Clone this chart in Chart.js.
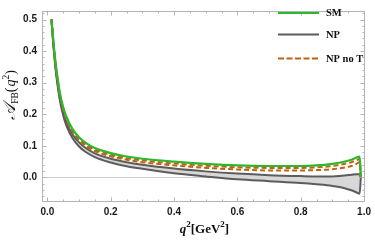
<!DOCTYPE html>
<html>
<head>
<meta charset="utf-8">
<script src="https://cdn.jsdelivr.net/npm/chart.js@4.4.1/dist/chart.umd.min.js"></script>
<style>
html,body{margin:0;padding:0;background:#fff;}
#wrap{width:375px;height:246px;position:relative;}
</style>
</head>
<body>
<div id="wrap"><canvas id="c" width="375" height="246"></canvas></div>
<script>
// ---- data ----
const q2 = [0.013, 0.016, 0.02, 0.025, 0.03, 0.04, 0.05, 0.06, 0.08, 0.10, 0.12, 0.15, 0.20, 0.25, 0.30, 0.40, 0.50, 0.60, 0.70, 0.80, 0.85, 0.90, 0.93, 0.96, 0.975, 0.986, 0.99];
const smA        = [0.50, 0.465, 0.42, 0.37, 0.33, 0.265, 0.222, 0.192, 0.152, 0.127, 0.110, 0.093, 0.077, 0.066, 0.059, 0.050, 0.043, 0.038, 0.036, 0.036, 0.038, 0.043, 0.048, 0.056, 0.062, 0.066, 0.0];
const npNoTUpper = [0.50, 0.463, 0.417, 0.366, 0.326, 0.260, 0.217, 0.187, 0.147, 0.122, 0.105, 0.088, 0.072, 0.061, 0.054, 0.044, 0.037, 0.032, 0.030, 0.030, 0.032, 0.036, 0.041, 0.048, 0.054, 0.058, 0.0];
const npNoTLower = [0.50, 0.461, 0.414, 0.363, 0.322, 0.256, 0.213, 0.183, 0.143, 0.118, 0.101, 0.083, 0.067, 0.056, 0.048, 0.038, 0.030, 0.025, 0.022, 0.022, 0.023, 0.026, 0.030, 0.036, 0.042, 0.048, 0.0];
const npUpper    = [0.50, 0.459, 0.410, 0.358, 0.316, 0.250, 0.206, 0.175, 0.135, 0.111, 0.094, 0.076, 0.059, 0.048, 0.040, 0.028, 0.019, 0.012, 0.007, 0.004, 0.003, 0.003, 0.005, 0.008, 0.010, 0.010, 0.0];
const npLower    = [0.50, 0.456, 0.405, 0.351, 0.308, 0.241, 0.196, 0.164, 0.123, 0.098, 0.081, 0.064, 0.047, 0.035, 0.027, 0.013, 0.003, -0.006, -0.012, -0.018, -0.022, -0.027, -0.032, -0.041, -0.047, -0.052, 0.0];
const xTickValues = [0.0, 0.2, 0.4, 0.6, 0.8, 1.0];
const yTickValues = [0.0, 0.1, 0.2, 0.3, 0.4, 0.5];
const legendLabels = ["SM", "NP", "NP no T"];

const GREEN = '#2cb82c', GRAY = '#5c5c5c', BROWN = '#c0620f', BAND = '#d8d8d8', FRAME = '#b4b4b4';

const pts = arr => arr.map((v, i) => ({x: q2[i], y: v}));

const framePlugin = {
  id: 'frame',
  beforeDatasetsDraw(chart) {
    const {ctx, chartArea: a, scales: {x, y}} = chart;
    ctx.save();
    ctx.strokeStyle = '#cfcfcf'; ctx.lineWidth = 1;
    const y0 = Math.round(y.getPixelForValue(0)) + 0.5;
    ctx.beginPath(); ctx.moveTo(a.left, y0); ctx.lineTo(a.right, y0); ctx.stroke();
    ctx.restore();
  },
  afterDatasetsDraw(chart) {
    const {ctx, chartArea: a, scales: {x, y}} = chart;
    ctx.save();
    ctx.strokeStyle = FRAME; ctx.lineWidth = 1;
    ctx.strokeRect(a.left + 0.5, a.top + 0.5, a.right - a.left - 1, a.bottom - a.top - 1);
    for (let k = 0; k <= 20; k++) {
      const v = k * 0.05;
      const px = Math.round(x.getPixelForValue(v)) + 0.5;
      const len = (k % 4 === 0) ? 4.5 : 2.5;
      ctx.beginPath();
      ctx.moveTo(px, a.bottom); ctx.lineTo(px, a.bottom - len);
      ctx.moveTo(px, a.top); ctx.lineTo(px, a.top + len);
      ctx.stroke();
    }
    for (let k = -3; k <= 26; k++) {
      const v = k * 0.02;
      if (v < y.min || v > y.max) continue;
      const py = Math.round(y.getPixelForValue(v)) + 0.5;
      const len = (k % 5 === 0) ? 4.5 : 2.5;
      ctx.beginPath();
      ctx.moveTo(a.left, py); ctx.lineTo(a.left + len, py);
      ctx.moveTo(a.right, py); ctx.lineTo(a.right - len, py);
      ctx.stroke();
    }
    ctx.restore();
  },
  afterDraw(chart) {
    const {ctx, chartArea: a} = chart;
    ctx.save();
    const items = [
      {label: legendLabels[0], color: GREEN, dash: [], w: 2.2},
      {label: legendLabels[1], color: GRAY, dash: [], w: 2},
      {label: legendLabels[2], color: BROWN, dash: [6, 2.5], w: 2},
    ];
    const ly = [13, 34.5, 58.5];
    items.forEach((it, i) => {
      ctx.strokeStyle = it.color; ctx.lineWidth = it.w; ctx.setLineDash(it.dash);
      ctx.beginPath(); ctx.moveTo(278, ly[i]); ctx.lineTo(319, ly[i]); ctx.stroke();
      ctx.setLineDash([]);
      ctx.fillStyle = '#111';
      ctx.font = 'bold 10.5px "Liberation Serif"';
      ctx.textBaseline = 'middle'; ctx.textAlign = 'left';
      ctx.fillText(it.label, 326, ly[i] + 0.5);
    });
    ctx.fillStyle = '#111';
    ctx.textBaseline = 'alphabetic'; ctx.textAlign = 'left';
    const big = 'bold 13px "Liberation Serif"', sup = 'bold 9px "Liberation Serif"', it = 'bold italic 13px "Liberation Serif"';
    const parts = [
      {t: 'q', f: it, dy: 0}, {t: '2', f: sup, dy: -6}, {t: '[GeV', f: big, dy: 0}, {t: '2', f: sup, dy: -6}, {t: ']', f: big, dy: 0}
    ];
    let tw = 0;
    parts.forEach(p => { ctx.font = p.f; tw += ctx.measureText(p.t).width; });
    let cx = (a.left + a.right) / 2 - tw / 2 + 1;
    const by = 233;
    parts.forEach(p => { ctx.font = p.f; ctx.fillText(p.t, cx, by + p.dy); cx += ctx.measureText(p.t).width; });
    ctx.translate(15, 95);
    ctx.rotate(-Math.PI / 2);
    const yparts = [
      {t: '\u{1D49C}', f: 'italic 17px "DejaVu Serif"', dy: 0},
      {t: 'FB', f: '9.5px "Liberation Serif"', dy: 3},
      {t: '(', f: '14px "Liberation Serif"', dy: 0},
      {t: 'q', f: 'italic 14px "Liberation Serif"', dy: 0},
      {t: '2', f: '9.5px "Liberation Serif"', dy: -6},
      {t: ')', f: '14px "Liberation Serif"', dy: 0},
    ];
    let yw = 0;
    yparts.forEach(p => { ctx.font = p.f; yw += ctx.measureText(p.t).width + (p.t === '(' ? 1 : 0); });
    let yx = -yw / 2;
    yparts.forEach(p => { ctx.font = p.f; ctx.fillText(p.t, yx, p.dy); yx += ctx.measureText(p.t).width + (p.t === '(' ? 1 : 0); });
    ctx.restore();
  }
};

const common = {pointRadius: 0, cubicInterpolationMode: 'monotone', fill: false};

new Chart(document.getElementById('c'), {
  type: 'line',
  data: {
    datasets: [
      {...common, label: legendLabels[0], data: pts(smA), borderColor: GREEN, borderWidth: 2.2},
      {...common, label: legendLabels[2], data: pts(npNoTUpper), borderColor: BROWN, borderWidth: 2, borderDash: [5, 3]},
      {...common, label: legendLabels[2] + ' (lower)', data: pts(npNoTLower), borderColor: BROWN, borderWidth: 2, borderDash: [5, 3]},
      {...common, label: legendLabels[1], data: pts(npUpper), borderColor: GRAY, borderWidth: 2},
      {...common, label: legendLabels[1] + ' (lower)', data: pts(npLower), borderColor: GRAY, borderWidth: 2, fill: '-1', backgroundColor: BAND},
    ]
  },
  options: {
    responsive: false,
    animation: false,
    events: [],
    layout: {padding: {top: 1, right: 8, left: 0, bottom: 0}},
    plugins: {legend: {display: false}, tooltip: {enabled: false}},
    scales: {
      x: {
        type: 'linear', min: -0.017, max: 1.003,
        grid: {display: false, drawTicks: false}, border: {display: false},
        afterFit: s => { s.height = 44; },
        afterBuildTicks: s => { s.ticks = xTickValues.map(v => ({value: v})); },
        ticks: {padding: 4, color: '#1a1a1a', font: {family: '"Liberation Sans"', size: 10, weight: 'bold'}, callback: v => Number(v).toFixed(1), maxRotation: 0}
      },
      y: {
        type: 'linear', min: -0.078, max: 0.527,
        grid: {display: false, drawTicks: false}, border: {display: false},
        afterFit: s => { s.width = 42; },
        afterBuildTicks: s => { s.ticks = yTickValues.map(v => ({value: v})); },
        ticks: {padding: 5, color: '#1a1a1a', font: {family: '"Liberation Sans"', size: 10, weight: 'bold'}, callback: v => Number(v).toFixed(1)}
      }
    }
  },
  plugins: [framePlugin]
});
</script>
</body>
</html>
